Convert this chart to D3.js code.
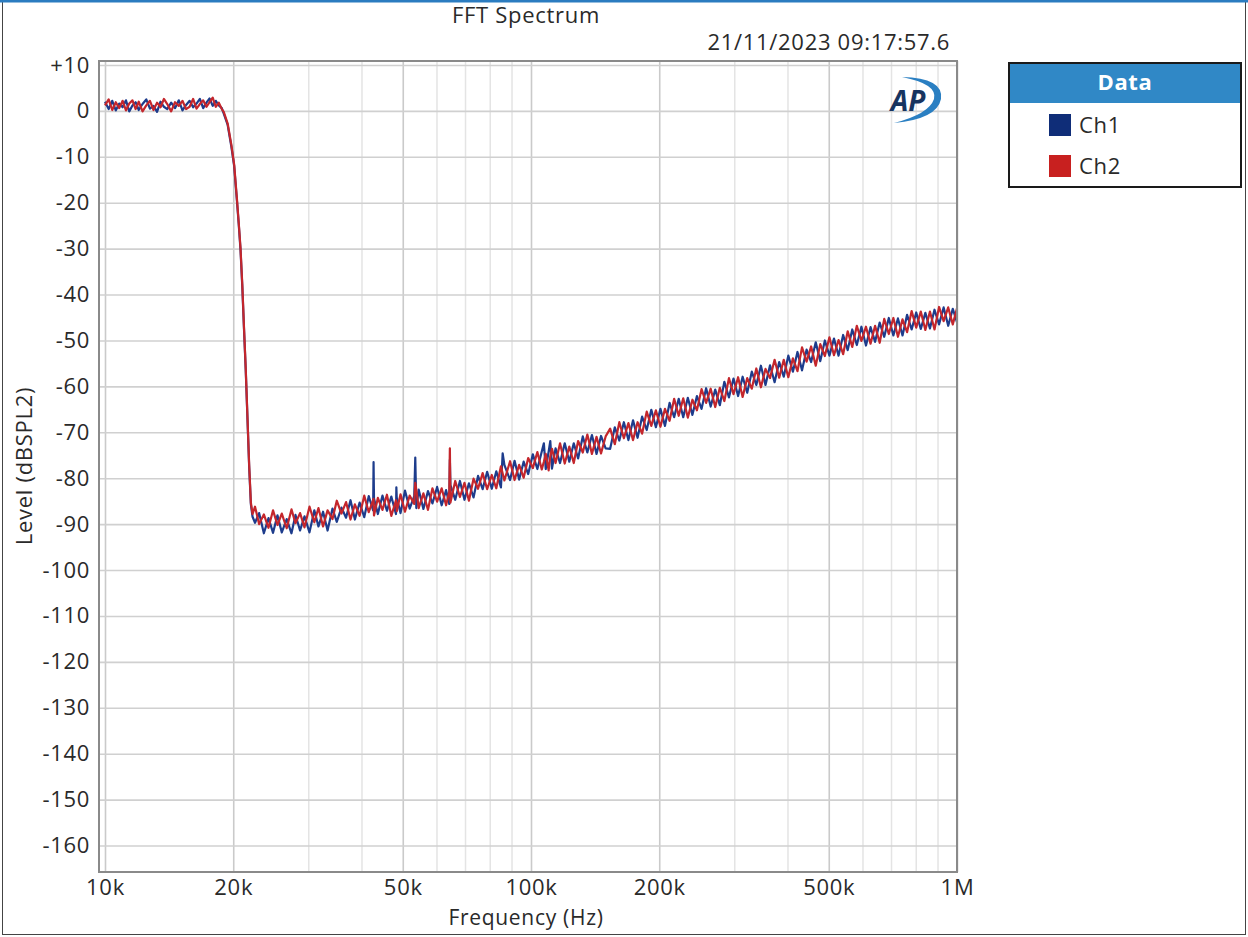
<!DOCTYPE html>
<html>
<head>
<meta charset="utf-8">
<script src="https://cdn.jsdelivr.net/npm/d3@7"></script>
<style>
  html, body { margin: 0; padding: 0; background: #fff; }
  svg { display: block; }
  text { font-family: "Open Sans", "Liberation Sans", Arial, sans-serif; letter-spacing: 0.7px; }
</style>
</head>
<body>
<svg id="chart" width="1248" height="937"></svg>
<script>
// ---------------- DATA ----------------
const title = "FFT Spectrum";
const timestamp = "21/11/2023 09:17:57.6";
const xAxisTitle = "Frequency (Hz)";
const yAxisTitle = "Level (dBSPL2)";
const seriesNames = ["Ch1", "Ch2"];

const xMajorTicks = [10000, 20000, 50000, 100000, 200000, 500000, 1000000];
const xTickLabels = ["10k", "20k", "50k", "100k", "200k", "500k", "1M"];
const xMinorTicks = [30000, 40000, 60000, 70000, 80000, 90000, 300000, 400000, 600000, 700000, 800000, 900000];
const yTicks = [10, 0, -10, -20, -30, -40, -50, -60, -70, -80, -90, -100, -110, -120, -130, -140, -150, -160];
const yTickLabels = ["+10", "0", "-10", "-20", "-30", "-40", "-50", "-60", "-70", "-80", "-90", "-100", "-110", "-120", "-130", "-140", "-150", "-160"];

// frequency points (kHz)
const freqKHz = [
  10, 10.2, 10.4, 10.6, 10.8, 11, 11.2, 11.4, 11.6, 11.8,
  12, 12.25, 12.5, 12.75, 13, 13.25, 13.5, 13.75, 14, 14.3,
  14.6, 14.9, 15.2, 15.5, 15.8, 16.1, 16.4, 16.7, 17, 17.3,
  17.6, 17.9, 18.2, 18.5, 18.8,
  19, 19.4, 19.8, 20.1, 20.4, 20.6, 20.8, 21, 21.2, 21.4, 21.6, 21.8, 22, 22.2,
  22.5, 23, 23.6, 24.2, 24.8, 25.4, 26, 26.7, 27.4, 28,
  28.7, 29.4, 30.2, 31, 31.7, 32.5, 33.3, 34.2, 35, 35.9,
  36.8, 37.7, 38.6, 39.6, 40.6, 41.6, 42.6, 42.7, 42.8, 43.7,
  44.8, 45.9, 47, 48.2, 48.3, 48.4, 49.4, 50.6, 51.9, 53.2,
  53.5, 53.8, 54.5, 55.9, 57.3, 58.7, 60.2, 61.7, 63.2, 64.3,
  64.5, 64.7, 66.4, 68.1, 69.8, 71.5, 73.3, 75.1, 77, 78.9,
  80.9, 82.9, 85, 85.8, 86.6, 89.3, 91.5, 93.8, 96.1, 98.5,
  101, 103.5, 106, 107.2, 108.3, 110, 111, 112, 114.2, 117,
  120, 123, 126, 129, 132.3, 135.6, 139, 142.5, 146, 149.7,
  153.4, 157.3, 161.2, 165.2, 169.3, 173.6, 177.9, 182.3, 186.9, 191.6,
  196.4, 201.3, 206.3, 211.5, 216.8, 222.2, 227.7, 233.4, 239.3, 245.2,
  251.4, 257.7, 264.1, 270.7, 277.5, 284.4, 291.5, 298.8, 306.3, 313.9,
  321.8, 329.8, 338, 346.5, 355.2, 364, 373.1, 382.5, 392, 401.8,
  411.9, 422.2, 432.7, 443.5, 454.6, 466, 477.6, 489.6, 501.8, 514.3,
  527.2, 540.4, 553.9, 567.7, 581.9, 596.5, 611.4, 626.7, 642.3, 658.4,
  674.8, 691.7, 709, 726.7, 744.9, 763.5, 782.6, 802.2, 822.2, 842.8,
  863.9, 885.5, 907.6, 930.3, 953.6, 977.4, 1000
];

// Ch1 level (dBSPL2)
const ch1 = [
  2.0, 0.4, 2.2, 0.1, 1.6, 0.8, 2.3, -0.1, 1.2, 1.9,
  0.2, 1.5, 2.5, 0.5, 1.1, -0.2, 2.0, 0.9, 0.4, 1.8,
  0.6, 2.3, 0.1, 1.3, 2.2, 0.8, 1.6, 2.6, 0.6, 1.8,
  2.7, 1.1, 2.2, 1.2, 0.6,
  -0.6, -3.0, -7.8, -12.0, -19.5, -24.6, -30.2, -38.1, -47.6, -56.6, -67.1, -77.6, -85.7, -88.4,
  -89.7, -87.6, -92.0, -88.7, -91.9, -88.1, -91.8, -88.9, -92.0, -88.0,
  -91.4, -88.3, -91.8, -87.0, -90.5, -87.3, -91.4, -86.6, -89.5, -86.4,
  -88.6, -84.8, -89.0, -85.3, -88.5, -83.9, -87.0, -76.5, -84.4, -87.8,
  -83.8, -87.1, -84.0, -87.8, -82.0, -84.2, -87.6, -82.7, -86.6, -83.9,
  -75.5, -86.5, -82.5, -86.7, -82.8, -85.5, -81.9, -85.9, -82.6, -85.6,
  -76.0, -81.5, -84.7, -80.6, -84.7, -81.1, -84.2, -79.5, -82.4, -78.6,
  -82.3, -78.5, -82.0, -74.6, -77.1, -80.4, -76.2, -80.3, -76.4, -79.1,
  -74.8, -78.0, -74.2, -72.4, -78.0, -74.2, -71.9, -77.9, -73.5, -76.7,
  -72.4, -76.4, -72.4, -75.7, -70.9, -74.4, -70.6, -74.7, -70.8, -73.5,
  -73.6, -68.9, -71.8, -67.8, -71.7, -67.4, -71.2, -66.6, -69.5, -65.1,
  -68.9, -64.9, -68.6, -63.6, -66.7, -62.7, -66.7, -62.5, -66.2, -62.1,
  -64.9, -60.4, -64.4, -60.7, -64.1, -59.0, -62.4, -58.3, -62.1, -57.9,
  -61.4, -56.8, -59.7, -55.5, -59.7, -55.4, -59.1, -54.7, -57.9, -53.3,
  -56.8, -52.5, -56.5, -52.0, -54.7, -50.4, -54.5, -50.0, -53.3, -49.6,
  -53.3, -48.8, -52.1, -47.6, -51.0, -47.0, -51.1, -47.1, -50.3, -46.1,
  -49.2, -45.1, -48.9, -45.2, -48.9, -44.4, -47.6, -43.9, -47.5, -44.0,
  -47.4, -43.3, -46.5, -42.8, -46.8, -43.1, -46.0
];

// Ch2 level (dBSPL2)
const ch2 = [
  1.2, 2.5, 0.2, 1.9, 0.6, 2.2, 0.1, 1.6, 2.3, 0.4,
  2.0, -0.1, 1.2, 2.2, 0.2, 1.8, 0.8, 2.6, 1.5, -0.1,
  1.9, 1.1, 2.2, 0.4, 0.9, 2.6, 0.5, 1.5, 2.3, 0.9,
  1.9, 2.9, 0.9, 1.8, 0.4,
  -0.2, -2.7, -7.4, -11.7, -19.1, -24.3, -29.8, -37.7, -47.3, -56.3, -66.8, -77.2, -85.3, -87.8,
  -86.2, -90.0, -87.9, -90.8, -87.0, -90.2, -87.7, -90.9, -86.8, -89.8,
  -87.6, -90.7, -86.2, -89.6, -86.5, -90.5, -87.0, -88.9, -84.9, -87.7,
  -85.2, -89.0, -85.7, -88.2, -83.8, -87.4, -84.8, -84.5, -88.1, -84.3,
  -86.9, -83.6, -88.2, -84.8, -85.4, -87.2, -83.5, -87.3, -83.8, -85.6,
  -81.0, -82.5, -86.5, -83.3, -86.9, -82.2, -85.1, -82.2, -85.9, -82.9,
  -73.5, -85.3, -80.6, -84.1, -81.0, -84.9, -80.1, -82.3, -78.9, -82.4,
  -79.3, -82.2, -77.4, -79.0, -80.5, -76.3, -80.4, -77.1, -79.9, -75.6,
  -77.8, -74.3, -78.1, -76.4, -74.7, -78.3, -75.2, -73.6, -76.7, -72.4,
  -76.8, -73.1, -76.7, -71.9, -74.4, -70.5, -74.7, -71.0, -74.6, -70.9,
  -69.2, -72.6, -67.8, -71.3, -68.0, -71.7, -67.8, -70.3, -65.5, -68.6,
  -65.2, -68.8, -64.9, -67.5, -62.7, -66.4, -62.6, -66.8, -62.9, -65.2,
  -60.6, -63.6, -60.5, -64.5, -60.3, -63.2, -58.2, -61.7, -58.0, -62.3,
  -58.2, -60.5, -56.1, -60.2, -56.2, -58.2, -54.2, -58.1, -54.2, -58.0,
  -53.9, -56.7, -51.5, -54.6, -51.3, -55.5, -50.8, -53.4, -49.3, -53.2,
  -49.9, -53.0, -48.0, -51.4, -46.8, -50.1, -47.0, -50.7, -46.8, -50.5,
  -45.3, -48.6, -45.1, -49.2, -45.4, -48.2, -43.6, -47.2, -43.7, -47.7,
  -43.7, -47.6, -42.7, -45.8, -42.8, -46.5, -43.0
];

const seriesColors = ["#1d3c8c", "#c4262c"];
const swatchColors = ["#0f2d78", "#c8201f"];

// ---------------- DRAW ----------------
const svg = d3.select("#chart");
const W = 1248, H = 937;
const plot = { left: 99, right: 957, top: 61, bottom: 872 };
const FS = 22;

// window frame
svg.append("rect").attr("x", 0).attr("y", 0).attr("width", W).attr("height", H).attr("fill", "#fff");
svg.append("rect").attr("x", 2.5).attr("y", 1).attr("width", 1243).attr("height", 933.5)
  .attr("fill", "none").attr("stroke", "#444").attr("stroke-width", 1);
svg.append("rect").attr("x", 0).attr("y", 0).attr("width", W).attr("height", 2.5).attr("fill", "#2b7cc0");

const x = d3.scaleLog().domain([1e4, 1e6]).range([105, 957]);
const y = d3.scaleLinear().domain([10, -160]).range([65, 845.5]);

// minor vertical grid
const gMinor = svg.append("g").attr("transform", `translate(0,${plot.bottom})`)
  .call(d3.axisBottom(x).tickValues(xMinorTicks).tickSize(-(plot.bottom - plot.top)).tickFormat(""));
gMinor.select(".domain").remove();
gMinor.selectAll("line").attr("stroke", "#e4e4e4").attr("stroke-width", 1.5);

// major vertical grid
const gMajor = svg.append("g").attr("transform", `translate(0,${plot.bottom})`)
  .call(d3.axisBottom(x).tickValues(xMajorTicks).tickSize(-(plot.bottom - plot.top)).tickFormat(""));
gMajor.select(".domain").remove();
gMajor.selectAll("line").attr("stroke", "#cacaca").attr("stroke-width", 1.6);

// horizontal grid
const gY = svg.append("g").attr("transform", `translate(${plot.left},0)`)
  .call(d3.axisLeft(y).tickValues(yTicks).tickSize(-(plot.right - plot.left)).tickFormat(""));
gY.select(".domain").remove();
gY.selectAll("line").attr("stroke", "#d0d0d0").attr("stroke-width", 1.6);

// traces
svg.append("clipPath").attr("id", "plotclip").append("rect")
  .attr("x", plot.left).attr("y", plot.top).attr("width", plot.right - plot.left).attr("height", plot.bottom - plot.top);

const line = d3.line().x(d => x(d[0] * 1000)).y(d => y(d[1]));
const gLines = svg.append("g").attr("clip-path", "url(#plotclip)");
[ch1, ch2].forEach((vals, i) => {
  const n = Math.min(vals.length, freqKHz.length);
  const pts = d3.range(n).map(k => [freqKHz[k], vals[k]]);
  gLines.append("path").datum(pts).attr("d", line)
    .attr("fill", "none").attr("stroke", seriesColors[i])
    .attr("stroke-width", 2.2).attr("stroke-linejoin", "round");
});

// plot frame
svg.append("rect").attr("x", plot.left).attr("y", plot.top)
  .attr("width", plot.right - plot.left).attr("height", plot.bottom - plot.top)
  .attr("fill", "none").attr("stroke", "#8a8a8a").attr("stroke-width", 2);

// y tick labels
const yLab = svg.append("g").attr("transform", `translate(90,0)`)
  .call(d3.axisLeft(y).tickValues(yTicks).tickSize(0).tickPadding(0)
    .tickFormat((d, i) => yTickLabels[i]));
yLab.select(".domain").remove();
yLab.selectAll("text").attr("font-size", FS).attr("fill", "#2a2a2a")
  .attr("font-family", '"Open Sans", sans-serif');

// x tick labels
const xLab = svg.append("g").attr("transform", `translate(0,${plot.bottom})`)
  .call(d3.axisBottom(x).tickValues(xMajorTicks).tickSize(0).tickPadding(7)
    .tickFormat((d, i) => xTickLabels[i]));
xLab.select(".domain").remove();
xLab.selectAll("text").attr("font-size", FS).attr("fill", "#2a2a2a")
  .attr("font-family", '"Open Sans", sans-serif');

// titles
svg.append("text").attr("x", 526).attr("y", 23).attr("text-anchor", "middle")
  .attr("font-size", FS).attr("fill", "#2a2a2a").text(title);
svg.append("text").attr("x", 950).attr("y", 50).attr("text-anchor", "end")
  .attr("font-size", FS).attr("fill", "#2a2a2a").text(timestamp);
svg.append("text").attr("x", 526).attr("y", 925).attr("text-anchor", "middle")
  .attr("font-size", 21).attr("fill", "#2a2a2a").text(xAxisTitle);
svg.append("text").attr("transform", "translate(32,466) rotate(-90)").attr("text-anchor", "middle")
  .attr("font-size", FS).attr("fill", "#2a2a2a").text(yAxisTitle);

// AP logo
const logo = svg.append("g");
logo.append("path")
  .attr("d", "M902,77 Q944,78 941,99 Q937,119 894,123 Q929,114 934,99 Q938,84 902,77 Z")
  .attr("fill", "#2a7fc2");
logo.append("text").attr("x", 908).attr("y", 111).attr("text-anchor", "middle")
  .attr("font-size", 28).attr("font-weight", "bold").attr("font-style", "italic")
  .attr("font-family", '"Liberation Sans", Arial, sans-serif').style("letter-spacing", "0px")
  .attr("fill", "#17345f").text("AP");

// legend
const lg = svg.append("g");
lg.append("rect").attr("x", 1009).attr("y", 63).attr("width", 232).attr("height", 124)
  .attr("fill", "#fff").attr("stroke", "#1a1a1a").attr("stroke-width", 2);
lg.append("rect").attr("x", 1010).attr("y", 64).attr("width", 230).attr("height", 39)
  .attr("fill", "#3088c6");
lg.append("text").attr("x", 1125).attr("y", 90).attr("text-anchor", "middle")
  .attr("font-size", FS).attr("font-weight", "bold").attr("fill", "#fff").text("Data");
seriesNames.forEach((name, i) => {
  const cy = 125 + i * 41;
  lg.append("rect").attr("x", 1049).attr("y", cy - 11).attr("width", 22).attr("height", 22)
    .attr("fill", swatchColors[i]);
  lg.append("text").attr("x", 1079).attr("y", cy + 8)
    .attr("font-size", FS).attr("fill", "#2a2a2a").text(name);
});
</script>
</body>
</html>
